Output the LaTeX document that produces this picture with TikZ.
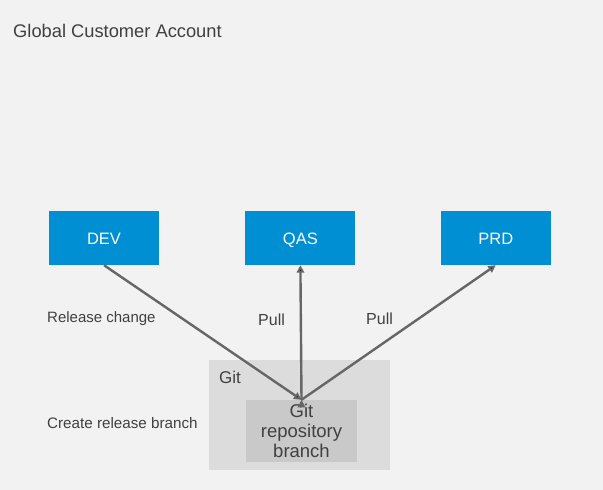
\documentclass[tikz,border=0pt]{standalone}
\usepackage{fontspec}
\setmainfont{Liberation Sans}
\usepackage{tikz}
\usetikzlibrary{positioning,arrows.meta}

\definecolor{bgGray}{HTML}{F2F2F2}
\definecolor{sapBlue}{HTML}{008FD3}
\definecolor{gitGray}{HTML}{DCDCDC}
\definecolor{branchGray}{HTML}{C9C9C9}
\definecolor{txtGray}{HTML}{404040}
\definecolor{lineGray}{HTML}{666666}

\tikzset{
  sys/.style={fill=sapBlue,text=white,minimum width=110pt,minimum height=54pt,
    inner sep=0pt,text height=12pt,text depth=0pt,font=\fontsize{16.5}{19}\selectfont},
  lbl/.style={text=txtGray,anchor=west,inner sep=0pt,font=\fontsize{15}{17}\selectfont},
  flow/.style={draw=lineGray,line width=2.4pt,-{Triangle[length=7.5pt,width=7.5pt]}}
}

\begin{document}
\begin{tikzpicture}[x=1pt,y=-1pt]
            \useasboundingbox[fill=bgGray] (0,0) rectangle (603,490);
            \node[lbl,font=\fontsize{18.3}{21}\selectfont] (title) at (13,31) {Global Customer Account};
            \node[sys] (dev) at (104,238) {DEV};
            \node[sys] (qas) [right = 86pt of dev] {QAS};
            \node[sys] (prd) [right = 85pt of qas] {PRD};
            \node[fill=gitGray,minimum width=181pt,minimum height=110pt,inner sep=0pt] (git) at (299.5,415) {};
            \node[lbl,font=\fontsize{17}{19}\selectfont] (gitlbl) at (219,377) {Git};
            \node[fill=branchGray,text=txtGray,minimum width=111pt,minimum height=62pt,inner sep=0pt,
                  align=center,font=\fontsize{18.5}{20}\selectfont] (branch) at (301.5,431) {Git\\repository\\branch};
            \node[lbl] (release) at (47,319) {Release change};
            \node[lbl,font=\fontsize{16}{18}\selectfont] (pullq) at (258,320) {Pull};
            \node[lbl,font=\fontsize{16}{18}\selectfont] (pullp) at (366,319) {Pull};
            \node[lbl,font=\fontsize{15.2}{18}\selectfont] (create) at (47,423) {Create release branch};
            \path[flow](dev.south) edge (branch.north)
                    (branch.north) edge (qas.south)
                    (branch.north) edge (prd.south);
        \end{tikzpicture}
\end{document}
